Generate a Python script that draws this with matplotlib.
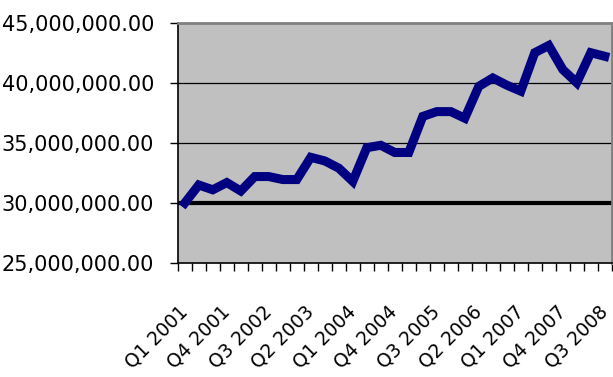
import numpy as np
import matplotlib
matplotlib.use("Agg")
import matplotlib.pyplot as plt
import matplotlib.transforms as mtransforms
from matplotlib.ticker import FuncFormatter

# quarterly values, Q1 2001 .. Q3 2008 (millions)
quarters = [f"Q{q} {y}" for y in range(2001, 2009) for q in range(1, 5)][:31]
values_m = [30.0, 31.5, 31.1, 31.7, 31.0, 32.2, 32.2, 31.95, 31.95, 33.8,
            33.5, 32.9, 31.8, 34.6, 34.8, 34.2, 34.2, 37.2, 37.6, 37.6,
            37.05, 39.7, 40.4, 39.8, 39.3, 42.5, 43.1, 41.1, 40.0, 42.5,
            42.2]
values = np.array(values_m) * 1e6
y_ticks = [25e6, 30e6, 35e6, 40e6, 45e6]
label_step = 3

fig = plt.figure(figsize=(6.13, 3.77), dpi=100)
ax = fig.add_axes([0.290, 0.302, 0.708, 0.638])
ax.set_facecolor("#C0C0C0")

x = np.arange(len(values))
ax.plot(x, values, color="#000080", lw=6.5, solid_joinstyle="miter", zorder=3)

ax.set_xlim(-0.5, len(values) - 0.5)
ax.set_ylim(y_ticks[0], y_ticks[-1])

# gridlines (the 30M one renders heavy in the original)
for v in y_ticks[1:-1]:
    ax.axhline(v, color="black", lw=3 if v == 30e6 else 0.9, zorder=1)

ax.set_yticks(y_ticks)
ax.yaxis.set_major_formatter(FuncFormatter(lambda v, p: f"{v:,.2f}"))
ax.tick_params(axis="y", length=6, width=1, pad=11, labelsize=15,
               direction="out")

ax.set_xticks(x[::label_step])
ax.set_xticklabels(quarters[::label_step], rotation=45, ha="right",
                   va="top", rotation_mode="anchor", fontsize=13.5)
ax.set_xticks(np.arange(-0.5, len(values)), minor=True)
ax.tick_params(axis="x", which="major", length=0, pad=28)
ax.tick_params(axis="x", which="minor", length=6, width=1, direction="out")

shift = mtransforms.ScaledTranslation(-5 / 72, 0, fig.dpi_scale_trans)
for lbl in ax.get_xticklabels():
    lbl.set_transform(lbl.get_transform() + shift)

for side in ("left", "bottom"):
    ax.spines[side].set_color("black")
    ax.spines[side].set_linewidth(1.2)
for side in ("top", "right"):
    ax.spines[side].set_color("#808080")
    ax.spines[side].set_linewidth(2)

fig.savefig("out.png", dpi=100)
